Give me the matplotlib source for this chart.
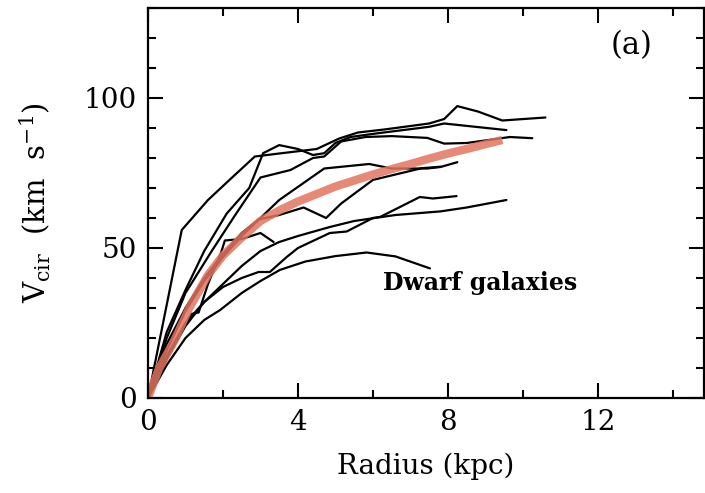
import matplotlib
matplotlib.use("Agg")
import matplotlib.pyplot as plt
from matplotlib.ticker import MultipleLocator

# ---- data (radius kpc, velocity km/s) ----
rA = [0, 0.9, 1.6, 2.2, 2.85, 3.5, 4.5, 5.1, 5.6, 6.3, 7.5, 7.9, 8.25, 8.8, 9.45, 10.6]
vA = [0, 56, 66, 73, 80.5, 81.5, 83, 86.5, 88.5, 89.5, 91.5, 93, 97.3, 95.5, 92.5, 93.5]

rB = [0, 0.5, 1.0, 1.5, 2.1, 2.7, 3.07, 3.5, 4.0, 4.4, 4.7, 5.0, 5.4, 6.1, 7.5, 7.9, 9.56]
vB = [0, 22, 36, 49, 61.5, 70, 81.6, 84.3, 83, 81, 81.6, 85, 87, 88.2, 90.4, 91.5, 89.3]

rD = [0, 0.5, 1.0, 1.7, 2.3, 3.0, 3.8, 4.4, 4.7, 5.15, 5.8, 6.5, 7.45, 7.9, 8.5, 9.2, 9.65, 10.25]
vD = [0, 20, 35, 49, 60.5, 73.5, 76, 80, 80.5, 85.5, 87, 87.3, 86.7, 84.8, 85, 86.2, 87, 86.6]

rF = [0, 0.5, 1.0, 1.5, 2.0, 2.5, 3.0, 3.5, 4.3, 4.7, 5.9, 6.5, 7.45, 7.8, 8.25]
vF = [0, 16, 29, 39, 47, 54, 60, 66, 73, 76.5, 78, 76.5, 76.5, 77, 78.6]

rE = [0, 0.5, 1.0, 1.5, 2.0, 2.5, 2.95, 3.5, 4.15, 4.75, 5.15, 5.6, 6.0, 7.3, 7.8]
vE = [0, 18, 30, 40, 48, 55, 59.5, 61, 63.5, 60, 64.8, 69, 72.7, 76.6, 77.1]

rG = [0, 0.5, 1.0, 1.5, 2.0, 2.5, 2.95, 3.25, 3.7, 4.0, 4.85, 5.3, 6.0, 6.2, 7.25, 7.6, 8.23]
vG = [0, 13, 24, 32, 37, 40, 42, 42, 47, 50, 55, 55.5, 60, 60.4, 67, 66.5, 67.3]

rH = [0, 0.5, 1.0, 1.5, 2.0, 2.5, 3.0, 3.5, 4.0, 4.85, 5.5, 6.6, 7.8, 8.5, 9.56]
vH = [0, 14, 25, 32, 38, 44, 49, 52, 54, 57, 59, 61, 62.2, 63.5, 66]

rI = [0, 0.5, 1.0, 1.5, 1.92, 2.5, 3.0, 3.52, 4.2, 5.0, 5.83, 6.6, 7.52]
vI = [0, 11, 20, 26, 29.3, 35, 39, 42.7, 45.5, 47.3, 48.5, 47.2, 43.2]

rJ = [0, 0.6, 1.15, 1.35, 1.6, 1.95, 2.05, 2.5, 3.0, 3.35]
vJ = [0, 16, 28, 28.5, 38, 48.5, 52.5, 53, 55, 52]

black_curves = [(rA, vA), (rB, vB), (rD, vD), (rF, vF), (rE, vE),
                (rG, vG), (rH, vH), (rI, vI), (rJ, vJ)]

r_model = [0, 0.3, 0.7, 1.1, 1.6, 2.0, 2.5, 3.0, 3.5, 4.0, 4.5, 5.0, 5.5, 6.0, 6.5, 7.0, 7.5, 8.0, 8.5, 9.0, 9.45]
v_model = [0, 10, 19, 30, 41, 47.5, 53.5, 59, 62.5, 65.5, 68, 70.5, 72.5, 74.5, 76.3, 78, 79.8, 81.5, 83, 84.6, 86]

xticks = [0, 4, 8, 12]
yticks = [0, 50, 100]

plt.rcParams['font.family'] = ['DejaVu Serif']
plt.rcParams['mathtext.fontset'] = 'dejavuserif'

fig = plt.figure(figsize=(7.05, 4.93), dpi=100)
ax = fig.add_axes([148/705, 1-398/493, (704-148)/705, (398-8)/493])

for r, v in black_curves:
    ax.plot(r, v, color='black', lw=1.6, solid_joinstyle='round', solid_capstyle='round')

ax.plot(r_model, v_model, color='#e3745f', lw=6, alpha=0.85, solid_capstyle='butt')

ax.set_xlim(0, 14.83)
ax.set_ylim(0, 130)
ax.set_xticks(xticks)
ax.set_yticks(yticks)
ax.xaxis.set_minor_locator(MultipleLocator(2))
ax.yaxis.set_minor_locator(MultipleLocator(10))
ax.tick_params(which='both', direction='in', top=True, right=True, width=1.5, labelsize=20)
ax.tick_params(which='major', length=11, pad=8)
ax.tick_params(which='minor', length=6)
for s in ax.spines.values():
    s.set_linewidth(1.6)

ax.set_xlabel('Radius (kpc)', fontsize=20, labelpad=12)
ax.set_ylabel(r'V$_{\rm cir}$  (km  s$^{-1}$)', fontsize=21, labelpad=22)

ax.text(6.27, 38.3, 'Dwarf galaxies', fontsize=17, fontweight='bold', ha='left', va='center')
ax.text(12.9, 117.5, '(a)', fontsize=22, ha='center', va='center')

fig.savefig('out.png', dpi=100)
